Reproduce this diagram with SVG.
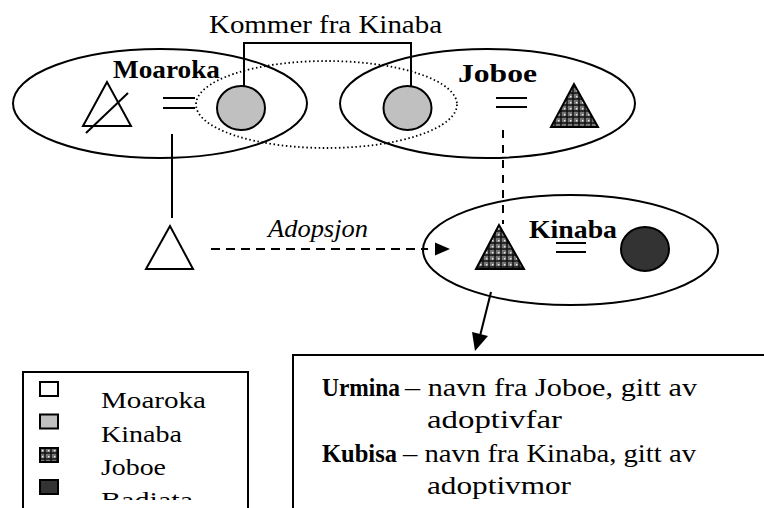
<svg xmlns="http://www.w3.org/2000/svg" width="764" height="508" viewBox="0 0 764 508">
<style>
.ln{fill:none;stroke:#000;stroke-width:2}
.ell{fill:none;stroke:#000;stroke-width:2}
.dot{fill:none;stroke:#000;stroke-width:1.8;stroke-dasharray:1.5 2.6}
.dash{fill:none;stroke:#000;stroke-width:2;stroke-dasharray:9 6}
.t{font-family:"Liberation Serif",serif;fill:#000}
.b{font-weight:bold}
.gray{fill:#c0c0c0;stroke:#000;stroke-width:2}
.dark{fill:#333;stroke:#000;stroke-width:2}
.white{fill:#fff;stroke:#000;stroke-width:2}
</style>
<defs>
<pattern id="jpat" width="6" height="6" patternUnits="userSpaceOnUse">
<rect width="6" height="6" fill="#777"/>
<path d="M3 0V6M0 3H6" stroke="#111" stroke-width="1.5"/>
<rect x="0" y="0" width="1.4" height="1.4" fill="#eee"/>
</pattern>
<clipPath id="clipB"><rect x="0" y="0" width="764" height="500"/></clipPath>
</defs>
<rect width="764" height="508" fill="#fff"/>

<g id="label-kommer">
<text class="t" x="209" y="33" font-size="26" textLength="233" lengthAdjust="spacingAndGlyphs">Kommer fra Kinaba</text>
</g>

<g id="moaroka">
<ellipse class="ell" cx="160" cy="103.5" rx="147" ry="54.5"/>
<text class="t b" x="113" y="78" font-size="25" textLength="107" lengthAdjust="spacingAndGlyphs">Moaroka</text>
<polygon class="white" points="107,82 83,126 131,126" fill="none"/>
<line class="ln" x1="86" y1="133" x2="128" y2="93"/>
<line class="ln" x1="163" y1="98" x2="195" y2="98"/>
<line class="ln" x1="163" y1="108" x2="195" y2="108"/>
</g>

<g id="kinaba-origin">
<ellipse class="dot" cx="326.5" cy="104.5" rx="130.5" ry="43.5"/>
<ellipse class="gray" cx="241" cy="108" rx="24" ry="22"/>
<ellipse class="gray" cx="407.5" cy="108" rx="24" ry="22"/>
</g>

<g id="joboe">
<ellipse class="ell" cx="487.5" cy="103.5" rx="147.5" ry="54.5"/>
<text class="t b" x="458" y="82" font-size="25" textLength="79" lengthAdjust="spacingAndGlyphs">Joboe</text>
<line class="ln" x1="496" y1="98" x2="527" y2="98"/>
<line class="ln" x1="496" y1="107" x2="527" y2="107"/>
<polygon points="574,84 551,127 598,127" fill="url(#jpat)" stroke="#000" stroke-width="2"/>
</g>

<g id="child">
<polygon class="white" points="170,226 146,269 193,269"/>
</g>

<g id="kinaba">
<ellipse class="ell" cx="570.5" cy="250" rx="147.5" ry="55"/>
<polygon points="499,225 476,269 524,269" fill="url(#jpat)" stroke="#000" stroke-width="2"/>
<text class="t b" x="529" y="238" font-size="25" textLength="88" lengthAdjust="spacingAndGlyphs">Kinaba</text>
<line class="ln" x1="556" y1="243" x2="586" y2="243"/>
<line class="ln" x1="556" y1="252" x2="586" y2="252"/>
<ellipse class="dark" cx="645" cy="249" rx="24" ry="22"/>
</g>

<g id="connectors">
<polyline class="ln" points="244,86 244,43 411,43 411,86"/>
<line class="ln" x1="172" y1="134" x2="172" y2="218"/>
<line class="dash" x1="503" y1="130" x2="503" y2="224" style="stroke-dasharray:8 7"/>
<line class="dash" x1="211" y1="249" x2="428" y2="249"/>
<polygon points="435,242.5 450,249 435,255.5" fill="#000"/>
<text class="t" x="268" y="237" font-size="25" font-style="italic" textLength="100" lengthAdjust="spacingAndGlyphs">Adopsjon</text>
<line class="ln" x1="491" y1="292" x2="480" y2="336"/>
<polygon points="472,332 488,336 475,351" fill="#000"/>
</g>

<g id="legend">
<rect x="23" y="372" width="225" height="150" fill="none" stroke="#000" stroke-width="2"/>
<rect class="white" x="40" y="382" width="18" height="14"/>
<rect class="gray" x="40" y="414.5" width="18" height="14"/>
<rect x="40" y="448" width="18" height="14" fill="url(#jpat)" stroke="#000" stroke-width="2"/>
<rect class="dark" x="40" y="480" width="18" height="14"/>
<text class="t" x="101" y="408" font-size="23" textLength="105" lengthAdjust="spacingAndGlyphs">Moaroka</text>
<text class="t" x="101" y="442" font-size="23" textLength="81" lengthAdjust="spacingAndGlyphs">Kinaba</text>
<text class="t" x="101" y="475" font-size="23" textLength="65" lengthAdjust="spacingAndGlyphs">Joboe</text>
<text class="t" x="101" y="508" font-size="23" textLength="92" lengthAdjust="spacingAndGlyphs" clip-path="url(#clipB)">Badiata</text>
</g>

<g id="note">
<rect x="293" y="355" width="500" height="170" fill="none" stroke="#000" stroke-width="2"/>
<text class="t b" x="322" y="396" font-size="25" textLength="78" lengthAdjust="spacingAndGlyphs">Urmina</text>
<text class="t" x="405" y="396" font-size="26" textLength="292" lengthAdjust="spacingAndGlyphs">– navn fra Joboe, gitt av</text>
<text class="t" x="427" y="428" font-size="26" textLength="135" lengthAdjust="spacingAndGlyphs">adoptivfar</text>
<text class="t b" x="322" y="462" font-size="25" textLength="75" lengthAdjust="spacingAndGlyphs">Kubisa</text>
<text class="t" x="403" y="462" font-size="26" textLength="293" lengthAdjust="spacingAndGlyphs">– navn fra Kinaba, gitt av</text>
<text class="t" x="427" y="494" font-size="26" textLength="144" lengthAdjust="spacingAndGlyphs">adoptivmor</text>
</g>
</svg>
